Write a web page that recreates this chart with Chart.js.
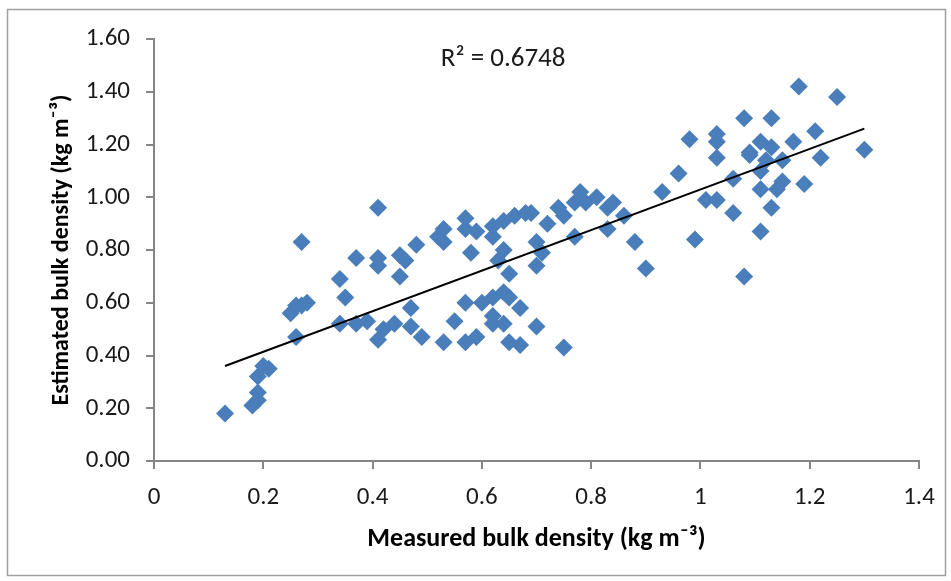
<!DOCTYPE html>
<html>
<head>
<meta charset="utf-8">
<script src="https://cdn.jsdelivr.net/npm/chart.js@4.4.0/dist/chart.umd.min.js"></script>
<style>
  html, body { margin: 0; padding: 0; background: #fff; }
  #wrap { width: 951px; height: 581px; }
</style>
</head>
<body>
<div id="wrap"><canvas id="chart" width="951" height="581"></canvas></div>
<script>
// measured vs estimated bulk density
const measured = [
  0.13, 0.18, 0.19, 0.19, 0.19, 0.20, 0.21, 0.25, 0.26, 0.27, 0.28, 0.26, 0.27,
  0.34, 0.35, 0.37, 0.34, 0.37, 0.39, 0.41, 0.42, 0.44, 0.41, 0.41, 0.41, 0.45,
  0.46, 0.45, 0.48, 0.47, 0.47, 0.49, 0.52, 0.53, 0.53, 0.53, 0.55, 0.57, 0.57,
  0.59, 0.58, 0.62, 0.62, 0.64, 0.66, 0.68, 0.69, 0.64, 0.63, 0.65, 0.70, 0.70,
  0.71, 0.72, 0.74, 0.75, 0.78, 0.77, 0.79, 0.81, 0.83, 0.84, 0.86, 0.83, 0.77,
  0.88, 0.90, 0.93, 0.96, 0.99, 1.01, 1.03, 1.06, 1.06, 1.08, 1.11, 1.11,
  0.57, 0.57, 0.59, 0.60, 0.62, 0.64, 0.65, 0.62, 0.62, 0.64, 0.67, 0.70, 0.65,
  0.67, 0.75,
  1.18, 1.25, 1.08, 1.13, 1.21, 0.98, 1.03, 1.03, 1.03, 1.09, 1.11, 1.13, 1.09,
  1.12, 1.15, 1.17, 1.22, 1.30, 1.11, 1.15, 1.14, 1.19, 1.13
];
const estimated = [
  0.18, 0.21, 0.23, 0.26, 0.32, 0.36, 0.35, 0.56, 0.59, 0.59, 0.60, 0.47, 0.83,
  0.69, 0.62, 0.77, 0.52, 0.52, 0.53, 0.46, 0.50, 0.52, 0.96, 0.77, 0.74, 0.78,
  0.76, 0.70, 0.82, 0.58, 0.51, 0.47, 0.85, 0.88, 0.83, 0.45, 0.53, 0.92, 0.88,
  0.87, 0.79, 0.89, 0.85, 0.91, 0.93, 0.94, 0.94, 0.80, 0.76, 0.71, 0.83, 0.74,
  0.79, 0.90, 0.96, 0.93, 1.02, 0.98, 0.98, 1.00, 0.96, 0.98, 0.93, 0.88, 0.85,
  0.83, 0.73, 1.02, 1.09, 0.84, 0.99, 0.99, 0.94, 1.07, 0.70, 0.87, 1.03,
  0.60, 0.45, 0.47, 0.60, 0.62, 0.64, 0.62, 0.55, 0.52, 0.52, 0.58, 0.51, 0.45,
  0.44, 0.43,
  1.42, 1.38, 1.30, 1.30, 1.25, 1.22, 1.24, 1.21, 1.15, 1.17, 1.21, 1.19, 1.16,
  1.14, 1.14, 1.21, 1.15, 1.18, 1.10, 1.06, 1.03, 1.05, 0.96
];

// linear trendline end points
const trendX = [0.13, 1.30];
const trendY = [0.36, 1.26];

const xTickLabels = ["0", "0.2", "0.4", "0.6", "0.8", "1", "1.2", "1.4"];
const yTickLabels = ["0.00", "0.20", "0.40", "0.60", "0.80", "1.00", "1.20", "1.40", "1.60"];
const r2Label = "R\u00b2 = 0.6748";

const FONT = 'Carlito, "Open Sans", sans-serif';
const AXIS_GREY = "#868686";

const points = measured.map((x, i) => ({ x: x, y: estimated[i] }));
const trend = trendX.map((x, i) => ({ x: x, y: trendY[i] }));

// frame around the chart and the R² note
const extras = {
    id: "extras",
    beforeDraw(chart) {
        const ctx = chart.ctx;
        ctx.save();
        ctx.fillStyle = "#fff";
        ctx.fillRect(0, 0, chart.width, chart.height);
        ctx.strokeStyle = "#a0a0a0";
        ctx.lineWidth = 1.5;
        ctx.strokeRect(7.5, 9.5, 938, 566);
        ctx.restore();
    },
    afterDatasetsDraw(chart) {
        const { ctx, scales } = chart;
        ctx.save();
        ctx.font = "27px " + FONT;
        ctx.fillStyle = "#1a1a1a";
        ctx.textAlign = "center";
        ctx.textBaseline = "middle";
        ctx.fillText(r2Label, scales.x.getPixelForValue(0.639), scales.y.getPixelForValue(1.525));
        ctx.restore();
    },
};

const ctx = document.getElementById("chart").getContext("2d");
const chart = new Chart(ctx, {
    type: "scatter",
    data: {
        datasets: [
            {
                type: "line",
                label: "Linear trend",
                data: trend,
                borderColor: "#000",
                borderWidth: 2,
                pointRadius: 0,
                fill: false,
                order: 0,
            },
            {
                label: "Bulk density",
                data: points,
                pointStyle: "rectRot",
                pointRadius: 9,
                pointHoverRadius: 9,
                backgroundColor: "#4a7ebb",
                borderColor: "#4a7ebb",
                borderWidth: 0,
                order: 1,
            },
        ],
    },
    options: {
        responsive: false,
        animation: false,
        devicePixelRatio: 1,
        layout: { padding: { top: 39, right: 32, bottom: 0, left: 0 } },
        plugins: {
            legend: { display: false },
            tooltip: { enabled: false },
        },
        scales: {
            x: {
                type: "linear",
                min: 0,
                max: 1.4,
                afterFit: (scale) => { scale.height = 120; },
                ticks: {
                    stepSize: 0.2,
                    padding: 14,
                    color: "#1a1a1a",
                    font: { family: FONT, size: 25 },
                    callback: (value, index) => xTickLabels[index],
                },
                grid: { drawOnChartArea: false, drawTicks: true, tickLength: 8, color: AXIS_GREY, lineWidth: 2 },
                border: { display: true, color: AXIS_GREY, width: 2 },
                title: {
                    display: true,
                    text: "Measured bulk density (kg m\u207b\u00b3)",
                    color: "#000",
                    font: { family: FONT, size: 26, weight: "bold" },
                    padding: { top: 0, bottom: 26 },
                },
            },
            y: {
                type: "linear",
                min: 0,
                max: 1.6,
                afterFit: (scale) => { scale.width = 154; },
                ticks: {
                    stepSize: 0.2,
                    padding: 16,
                    color: "#1a1a1a",
                    font: { family: FONT, size: 25 },
                    callback: (value, index) => yTickLabels[index],
                },
                grid: { drawOnChartArea: false, drawTicks: true, tickLength: 8, color: AXIS_GREY, lineWidth: 2 },
                border: { display: true, color: AXIS_GREY, width: 2 },
                title: {
                    display: true,
                    text: "Estimated bulk density (kg m\u207b\u00b3)",
                    color: "#000",
                    font: { family: FONT, size: 24, weight: "bold" },
                    padding: { top: 48, bottom: 48 },
                },
            },
        },
    },
    plugins: [extras],
});
</script>
</body>
</html>
